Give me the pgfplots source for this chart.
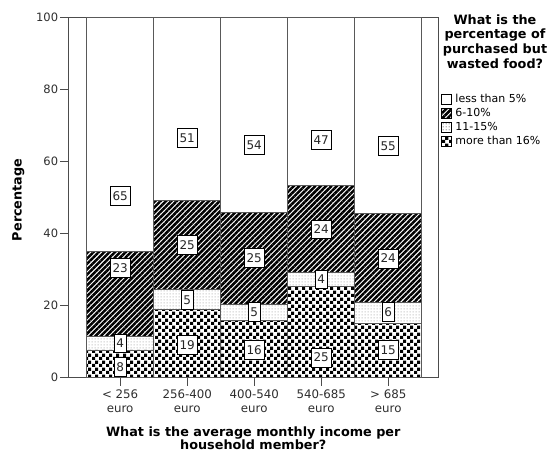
\documentclass[border=0pt]{standalone}
\usepackage{fontspec}
\setmainfont{DejaVu Sans}
\usepackage{pgfplots}
\usepackage{pgfplotstable}
\pgfplotsset{compat=1.18}
\usetikzlibrary{patterns,patterns.meta}

\tikzdeclarepattern{
  name=mychecker,
  type=uncolored,
  bounding box={(0pt,0pt) and (6.6pt,6.6pt)},
  tile size={(6.6pt,6.6pt)},
  code={
    \fill (0pt,0pt) rectangle (3.3pt,3.3pt);
    \fill (3.3pt,3.3pt) rectangle (6.6pt,6.6pt);
  }
}
\tikzdeclarepattern{
  name=mydots,
  type=uncolored,
  bounding box={(0pt,0pt) and (2.6pt,2.6pt)},
  tile size={(2.6pt,2.6pt)},
  code={
    \fill (0.6pt,0.6pt) rectangle (2.0pt,2.0pt);
  }
}

\pgfplotstableread{
x a b c d
0 7.7 3.7 23.6 65.0
1 18.9 5.6 24.7 50.8
2 15.8 4.7 25.5 54.0
3 25.3 3.9 24.1 46.7
4 15.0 5.8 24.8 54.4
}\bars

\pgfplotstableread{
x y t
0 3.05 8
0 9.55 4
0 30.5 23
0 50.5 65
1 9.1 19
1 21.6 5
1 36.9 25
1 66.6 51
2 7.7 16
2 18.3 5
2 33.3 25
2 64.6 54
3 5.6 25
3 27.3 4
3 41.2 24
3 66.0 47
4 7.7 15
4 18.3 6
4 33.1 24
4 64.4 55
}\labels

\definecolor{axgray}{gray}{0.3}
\definecolor{bargray}{gray}{0.35}

\begin{document}
\begin{tikzpicture}
\path[use as bounding box] (-68.3pt,-75.3pt) rectangle (485.7pt,377.7pt);
\begin{axis}[
  at={(0pt,0pt)}, anchor=south west,
  scale only axis, width=370pt, height=360pt,
  ybar stacked, bar width=1,
  xmin=-0.774, xmax=4.747, ymin=0, ymax=100,
  xtick={0,1,2,3,4},
  xticklabels={{< 256\\euro},{256-400\\euro},{400-540\\euro},{540-685\\euro},{> 685\\euro}},
  xticklabel style={align=center, font=\fontsize{11.8}{14}\selectfont, text=axgray!60!black, inner sep=1pt, yshift=-3pt},
  ytick={0,20,40,60,80,100},
  yticklabel style={font=\fontsize{11.5}{13}\selectfont, text=axgray!60!black, inner sep=2pt},
  /pgf/number format/assume math mode=true,
  tick align=outside, major tick length=8pt,
  xtick pos=bottom, ytick pos=left,
  tick style={axgray, line width=0.8pt},
  axis line style={axgray, line width=0.8pt},
  xlabel={What is the average monthly income per\\household member?},
  xlabel style={align=center, font=\bfseries\fontsize{12.8}{12.5}\selectfont, at={(axis description cs:0.5,-0.137)}, anchor=north, inner sep=0pt},
  ylabel={Percentage},
  ylabel style={font=\bfseries\fontsize{12.8}{14}\selectfont, at={(axis description cs:-0.135,0.494)}, anchor=center, rotate=0},
  every axis plot/.append style={draw=bargray, line width=0.7pt},
  legend style={draw=none, fill=none, at={(1.007,0.792)}, anchor=north west, inner sep=0pt, outer sep=0pt,
    font=\fontsize{11}{11}\selectfont, row sep=0pt, cells={anchor=west},
    nodes={inner ysep=1.5pt, inner xsep=3.5pt, text height=8.5pt, text depth=2.5pt}},
  legend cell align=left,
  reverse legend,
  legend image code/.code={\draw[#1, draw=black, line width=0.6pt] (0pt,-5pt) rectangle (10.5pt,5.5pt);},
]
\addplot[pattern=mychecker, pattern color=black] table[x=x, y=a] {\bars};
\addplot[pattern=mydots, pattern color=gray!55] table[x=x, y=b] {\bars};
\addplot[pattern={Lines[angle=45, distance=3.8pt, line width=2.5pt]}, pattern color=black] table[x=x, y=c] {\bars};
\addplot[fill=white] table[x=x, y=d] {\bars};
\legend{more than 16\%, 11-15\%, 6-10\%, less than 5\%}
\end{axis}
\begin{axis}[
  at={(0pt,0pt)}, anchor=south west,
  scale only axis, width=370pt, height=360pt,
  xmin=-0.774, xmax=4.747, ymin=0, ymax=100,
  hide axis,
]
\addplot[only marks, mark=none, nodes near coords, point meta=explicit symbolic,
  nodes near coords align=center,
  every node near coord/.style={anchor=center, draw=black, fill=white, line width=0.6pt,
    inner xsep=2.5pt, inner ysep=5pt, text height=8.7pt, text depth=0pt,
    font=\fontsize{12}{12}\selectfont, text=black!85}]
  table[x=x, y=y, meta=t] {\labels};
\end{axis}
\node[align=center, anchor=north, font=\bfseries\fontsize{12.8}{14.7}\selectfont, inner sep=0pt]
  at (426.7pt,363.5pt) {What is the\\percentage of\\purchased but\\wasted food?};
\end{tikzpicture}
\end{document}
